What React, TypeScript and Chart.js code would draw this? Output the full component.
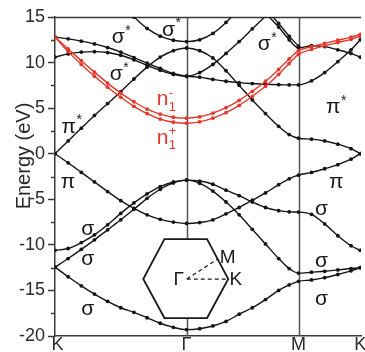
import React, { useEffect, useRef } from 'react';
import { Chart, registerables } from 'chart.js';

Chart.register(...registerables);

// Path coordinate: K = 0, Γ = 1, M = 1.851, K = 2.32
const kPath = [0, 0.1, 0.2, 0.3, 0.4, 0.5, 0.6, 0.7, 0.8, 0.9, 1.0,
  1.1, 1.2, 1.3, 1.4, 1.5, 1.6, 1.7, 1.78, 1.851,
  1.95, 2.05, 2.15, 2.25, 2.32];
const kLabels = ['K', 'Γ', 'M', 'K'];
const kLabelPos = [0, 1, 1.851, 2.32];
const yMajorStep = 5;
const yMinorStep = 2.5;

// Bands (eV) — black
const piStar = [0, 1.4, 2.8, 4.2, 5.5, 6.8, 8.2, 9.5, 10.6, 11.3, 11.6,
  11.3, 10.5, 9.1, 7.5, 5.9, 4.4, 3.0, 2.1, 1.7,
  1.6, 1.4, 1.05, 0.55, 0.0];
const piBand = [0, -1.0, -2.05, -3.1, -4.15, -5.15, -6.0, -6.7, -7.2, -7.5, -7.65,
  -7.55, -7.25, -6.6, -5.9, -5.1, -4.3, -3.4, -2.75, -2.35,
  -2.05, -1.65, -1.2, -0.6, 0.0];
const sigmaA = [-10.6, -10.4, -9.75, -8.9, -7.8, -6.55, -5.4, -4.4, -3.6, -3.1, -2.9,
  -3.0, -3.35, -4.0, -4.6, -5.3, -5.9, -6.25, -6.38, -6.4,
  -6.65, -7.7, -9.0, -10.1, -10.6];
const sigmaB = [-12.45, -11.5, -10.5, -9.45, -8.35, -7.25, -6.1, -4.9, -3.9, -3.2, -2.9,
  -3.25, -4.1, -5.3, -6.7, -8.3, -9.9, -11.5, -12.6, -13.1,
  -13.0, -12.9, -12.75, -12.6, -12.5];
const sigmaC = [-12.45, -13.5, -14.5, -15.4, -16.2, -16.9, -17.4, -18.0, -18.6, -19.05, -19.3,
  -19.2, -18.9, -18.4, -17.6, -16.9, -16.0, -15.0, -14.4, -14.0,
  -13.85, -13.6, -13.25, -12.85, -12.5];
const sigmaStar1 = [12.8, 12.6, 12.35, 12.05, 11.65, 11.15, 10.55, 9.95, 9.35, 8.8, 8.5,
  8.4, 8.15, 7.95, 7.8, 7.7, 7.62, 7.57, 7.55, 7.55,
  8.0, 8.9, 10.1, 11.4, 12.5];
const sigmaStar2 = [10.6, 10.95, 11.15, 11.2, 11.1, 10.8, 10.3, 9.7, 9.15, 8.7, 8.5,
  8.9, 9.8, 11.0, 12.3, 13.7, 15.1, null, null, null,
  null, null, null, null, null];
const sigmaStar3 = [null, null, null, null, null, null, 15.0, 13.75, 12.9, 12.45, 12.3,
  12.5, 13.2, 14.4, 15.9, null, null, null, null, null,
  null, null, null, null, null];
const sigmaStar4 = [null, null, null, null, null, null, null, null, null, null, null,
  null, null, null, null, null, 15.4, 13.9, 12.5, 11.6,
  11.85, 11.75, 11.4, 11.0, 10.6];
const sigmaStar5 = [null, null, null, null, null, null, null, null, null, null, null,
  null, null, null, null, null, 15.9, 14.3, 12.9, 11.8,
  null, null, null, null, null];
// Bands (eV) — red
const n1Minus = [12.8, 11.5, 10.2, 8.95, 7.75, 6.65, 5.7, 4.9, 4.35, 4.0, 3.9,
  4.05, 4.45, 5.05, 5.85, 6.85, 7.95, 9.25, 10.4, 11.3,
  11.75, 12.1, 12.45, 12.8, 13.1];
const n1Plus = [12.8, 11.2, 9.8, 8.5, 7.3, 6.2, 5.2, 4.4, 3.8, 3.45, 3.35,
  3.5, 3.9, 4.5, 5.3, 6.3, 7.4, 8.7, 9.9, 10.9,
  11.45, 11.85, 12.2, 12.55, 12.9];

const blackBands = [piStar, piBand, sigmaA, sigmaB, sigmaC, sigmaStar1, sigmaStar2, sigmaStar3, sigmaStar4, sigmaStar5];
const redBands = [n1Minus, n1Plus];

// Band labels
const labelText = ['σ', 'σ', 'σ', 'σ', 'π', 'π', 'σ', 'σ', 'σ', 'π', 'π', 'σ', 'σ', 'σ', 'n', 'n'];
const labelSup = ['*', '*', '*', '*', '*', '', '', '', '', '*', '', '', '', '', '-', '+'];
const labelSub = ['', '', '', '', '', '', '', '', '', '', '', '', '', '', '1', '1'];
const labelK = [0.503, 0.488, 0.885, 1.613, 0.128, 0.098, 0.248, 0.248, 0.248, 2.138, 2.138, 2.025, 2.025, 2.025, 0.84, 0.84];
const labelE = [12.7, 8.64, 13.57, 11.93, 2.93, -3.21, -8.3, -11.66, -17.04, 5.02, -3.21, -6.07, -11.88, -16.05, 5.9, 1.72];

const BLACK = '#141414';
const RED = '#e5382d';
const AXIS = '#3a3a3a';
const FONT = '"Liberation Sans", Arial, sans-serif';

function toPoints(vals: (number | null)[]) {
  return kPath.map((k, i) => ({ x: k, y: vals[i] }));
}

const decorPlugin = {
  id: 'decor',
  beforeDatasetsDraw(chart: any) {
    const { ctx, chartArea, scales } = chart;
    const xs = scales.x, ys = scales.y;
    ctx.save();
    ctx.strokeStyle = '#555';
    ctx.lineWidth = 1.5;
    [kLabelPos[1], kLabelPos[2]].forEach((k) => {
      const px = Math.round(xs.getPixelForValue(k)) + 0.5;
      ctx.beginPath();
      ctx.moveTo(px, chartArea.top);
      ctx.lineTo(px, chartArea.bottom);
      ctx.stroke();
    });
    ctx.strokeStyle = AXIS;
    ctx.beginPath();
    ctx.moveTo(chartArea.left, chartArea.top + 0.5);
    ctx.lineTo(chartArea.right, chartArea.top + 0.5);
    ctx.stroke();
    // Brillouin zone inset
    const cx = xs.getPixelForValue(1.0) - 0.8;
    const cy = ys.getPixelForValue(-13.75);
    const hx = 42.5, hxTop = 21.3, hyTop = 40, hyBot = 39;
    ctx.beginPath();
    ctx.moveTo(cx - hxTop, cy - hyTop);
    ctx.lineTo(cx + hxTop, cy - hyTop);
    ctx.lineTo(cx + hx, cy);
    ctx.lineTo(cx + hxTop, cy + hyBot);
    ctx.lineTo(cx - hxTop, cy + hyBot);
    ctx.lineTo(cx - hx, cy);
    ctx.closePath();
    ctx.fillStyle = '#ffffff';
    ctx.fill();
    ctx.strokeStyle = '#1a1a1a';
    ctx.lineWidth = 1.8;
    ctx.stroke();
    ctx.setLineDash([4, 3]);
    ctx.lineWidth = 1.2;
    ctx.beginPath();
    ctx.moveTo(cx + 1, cy);
    ctx.lineTo(cx + hx, cy);
    ctx.moveTo(cx + 1, cy);
    ctx.lineTo(cx + (hx + hxTop) / 2, cy - hyTop / 2);
    ctx.stroke();
    ctx.setLineDash([]);
    ctx.fillStyle = '#1a1a1a';
    ctx.font = `19px ${FONT}`;
    ctx.textBaseline = 'middle';
    ctx.textAlign = 'center';
    ctx.fillText('Γ', cx - 7, cy + 1);
    ctx.fillText('M', cx + 42, cy - 21);
    ctx.fillText('K', cx + 50, cy + 1);
    ctx.restore();
  },
  afterDraw(chart: any) {
    const { ctx, chartArea, scales } = chart;
    const xs = scales.x, ys = scales.y;
    ctx.save();
    ctx.strokeStyle = AXIS;
    ctx.lineWidth = 1.5;
    for (let v = ys.min; v <= ys.max + 1e-6; v += yMinorStep) {
      if (Math.abs(v % yMajorStep) < 1e-6) continue;
      const py = Math.round(ys.getPixelForValue(v)) + 0.5;
      ctx.beginPath();
      ctx.moveTo(chartArea.left - 4, py);
      ctx.lineTo(chartArea.left, py);
      ctx.stroke();
    }
    ctx.fillStyle = '#2a2a2a';
    ctx.font = `18px ${FONT}`;
    ctx.textAlign = 'center';
    ctx.textBaseline = 'middle';
    kLabels.forEach((t, i) => {
      const px = xs.getPixelForValue(kLabelPos[i]) + (i === 0 ? 2.5 : 0);
      ctx.fillText(t, px, chartArea.bottom + 9);
    });
    ctx.save();
    ctx.translate(24, 156);
    ctx.rotate(-Math.PI / 2);
    ctx.font = `20px ${FONT}`;
    ctx.fillText('Energy (eV)', 0, 0);
    ctx.restore();
    labelText.forEach((t, i) => {
      const px = xs.getPixelForValue(labelK[i]);
      const py = ys.getPixelForValue(labelE[i]);
      ctx.fillStyle = t === 'n' ? RED : '#1a1a1a';
      ctx.font = `21px ${FONT}`;
      ctx.textAlign = 'center';
      ctx.textBaseline = 'alphabetic';
      const mx = labelSup[i] || labelSub[i] ? px - 3 : px;
      ctx.fillText(t, mx, py + 5.5);
      const w = ctx.measureText(t).width;
      ctx.textAlign = 'left';
      if (labelSup[i]) {
        ctx.font = `${t === 'n' ? 13 : 14}px ${FONT}`;
        ctx.fillText(labelSup[i], mx + w / 2 + 0.5, py - 3);
      }
      if (labelSub[i]) {
        ctx.font = `13px ${FONT}`;
        ctx.fillText(labelSub[i], mx + w / 2 + 0.5, py + 11);
      }
    });
    ctx.restore();
  },
};

export default function App() {
  const ref = useRef<HTMLCanvasElement | null>(null);
  useEffect(() => {
    if (!ref.current) return;
    const mk = (vals: (number | null)[], color: string) => ({
      data: toPoints(vals),
      borderColor: color,
      backgroundColor: color,
      borderWidth: 1.4,
      pointRadius: 1.9,
      pointBorderWidth: 0,
      pointBackgroundColor: color,
      cubicInterpolationMode: 'monotone' as const,
      spanGaps: false,
    });
    const chart = new Chart(ref.current, {
      type: 'line',
      data: {
        datasets: [
          ...redBands.map((b) => mk(b, RED)),
          ...blackBands.map((b) => mk(b, BLACK)),
        ],
      },
      options: {
        animation: false,
        responsive: false,
        devicePixelRatio: 1,
        layout: { padding: { top: 17, left: 0, right: 0, bottom: 0 } },
        plugins: { legend: { display: false }, tooltip: { enabled: false } },
        scales: {
          x: {
            type: 'linear',
            min: 0,
            max: 2.326,
            ticks: { display: false },
            grid: { display: false, drawTicks: false },
            border: { display: true, color: AXIS, width: 1.5 },
            afterFit: (s: any) => { s.height = 16; },
          },
          y: {
            type: 'linear',
            min: -20,
            max: 15,
            ticks: {
              stepSize: yMinorStep,
              autoSkip: false,
              padding: 3,
              color: '#2a2a2a',
              font: { family: FONT, size: 18 },
              callback: (v: any) => (Math.abs(v % yMajorStep) < 1e-6 ? String(v) : ''),
            },
            grid: {
              drawOnChartArea: false,
              drawTicks: true,
              tickLength: 7,
              tickWidth: 1.5,
              tickColor: (c: any) => (c.tick && Math.abs(c.tick.value % yMajorStep) < 1e-6 ? AXIS : 'rgba(0,0,0,0)'),
            },
            border: { display: true, color: AXIS, width: 1.5 },
            afterFit: (s: any) => { s.width = 55; },
          },
        },
      },
      plugins: [decorPlugin],
    });
    return () => chart.destroy();
  }, []);
  return (
    <div style={{ position: 'absolute', left: 0, top: 0, width: 365, height: 352, background: '#fff' }}>
      <canvas ref={ref} width={365} height={352} style={{ width: 365, height: 352, display: 'block' }} />
    </div>
  );
}
